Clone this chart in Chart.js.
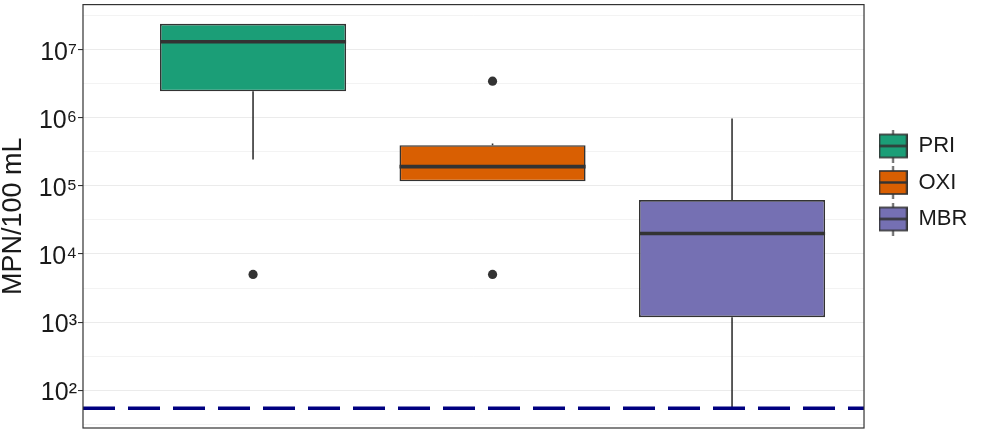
<!DOCTYPE html>
<html><head><meta charset="utf-8">
<script src="https://cdn.jsdelivr.net/npm/chart.js@4.4.1/dist/chart.umd.min.js"></script>
<style>html,body{margin:0;padding:0;background:#fff;}#wrap{width:981px;height:433px;position:relative;}</style>
</head><body><div id="wrap"><canvas id="c"></canvas></div>
<script>
// ---- data ----
const categories   = ['PRI', 'OXI', 'MBR'];
const positions    = [1, 2, 3];
const colors       = ['#1B9E77', '#D95F02', '#7570B3'];
const whiskerLow   = [2.45e5, 1.17e5, 54];
const q1           = [2.45e6, 1.17e5, 1.18e3];
const medians      = [1.31e7, 1.92e5, 2.0e4];
const q3           = [2.4e7, 3.95e5, 6.2e4];
const whiskerHigh  = [2.4e7, 4.2e5, 9.8e5];
const outliers     = [[5.0e3], [3.45e6, 5.0e3], []];
const detectionLimit = 54;
const yTickExponents = [2, 3, 4, 5, 6, 7];
const yTitle = 'MPN/100 mL';

// ---- layout / style constants ----
const X_MIN = 0.29, X_MAX = 3.551;
const Y_MIN = 27.8, Y_MAX = 4.6e7;
const BOX_FRAC = 0.777;
const FONT = "'Liberation Sans', Arial, sans-serif";
const DARK = '#333333';
const TEXT = '#1a1a1a';

const SUP = {'0':'⁰','1':'¹','2':'²','3':'³','4':'⁴','5':'⁵','6':'⁶','7':'⁷','8':'⁸','9':'⁹'};
const sup = n => String(n).split('').map(ch => SUP[ch]).join('');

const boxData = categories.map((c, i) => ({x: positions[i], y: [q1[i], q3[i]]}));
const whiskerPts = [];
categories.forEach((c, i) => {
  const p = positions[i];
  whiskerPts.push({x: p, y: whiskerHigh[i]}, {x: p, y: q3[i]}, {x: p, y: null},
                  {x: p, y: q1[i]}, {x: p, y: whiskerLow[i]}, {x: p, y: null});
});
const medianPts = [];
categories.forEach((c, i) => {
  const p = positions[i];
  medianPts.push({x: p - BOX_FRAC / 2, y: medians[i]}, {x: p + BOX_FRAC / 2, y: medians[i]}, {x: p, y: null});
});
const outlierPts = [];
outliers.forEach((arr, i) => arr.forEach(v => outlierPts.push({x: positions[i], y: v})));

// legend key images (boxplot glyphs)
function makeKey(fill) {
  const cv = document.createElement('canvas');
  cv.width = 29; cv.height = 33;
  const g = cv.getContext('2d');
  g.strokeStyle = DARK; g.lineWidth = 1.6;
  g.beginPath(); g.moveTo(14.5, 0); g.lineTo(14.5, 33); g.stroke();
  g.fillStyle = fill; g.fillRect(0.8, 5, 27.4, 23);
  g.strokeRect(0.8, 5, 27.4, 23);
  g.lineWidth = 2.4;
  g.beginPath(); g.moveTo(0.8, 16.5); g.lineTo(28.2, 16.5); g.stroke();
  return cv;
}
const keyImages = colors.map(makeKey);

const yTicks = [];
for (let e = 1.5; e <= 7.5; e += 0.5) yTicks.push(Math.pow(10, e));
const isMajor = v => { const l = Math.log10(v); return Math.abs(l - Math.round(l)) < 1e-6; };

const panelBorder = {
  id: 'panelBorder',
  afterDatasetsDraw(chart) {
    const {ctx, chartArea: a} = chart;
    ctx.save(); ctx.strokeStyle = DARK; ctx.lineWidth = 1.2;
    ctx.strokeRect(a.left, a.top, a.right - a.left, a.bottom - a.top);
    ctx.restore();
  }
};

new Chart(document.getElementById('c'), {
  type: 'bar',
  data: {
    datasets: [
      {type: 'line', label: 'limit', data: [{x: X_MIN, y: detectionLimit}, {x: X_MAX, y: detectionLimit}],
       borderColor: '#000080', borderWidth: 3.5, borderDash: [32, 13], pointRadius: 0, order: 0},
      {type: 'line', label: 'outliers', data: outlierPts, showLine: false, pointRadius: 4.6,
       pointBackgroundColor: DARK, pointBorderWidth: 0, order: 1},
      {type: 'line', label: 'median', data: medianPts, borderColor: DARK, borderWidth: 3.6,
       pointRadius: 0, spanGaps: false, order: 2},
      {type: 'bar', label: 'box', data: boxData, backgroundColor: colors, borderColor: DARK,
       borderWidth: 1.6, borderSkipped: false, barPercentage: BOX_FRAC, categoryPercentage: 1, order: 3},
      {type: 'line', label: 'whiskers', data: whiskerPts, borderColor: DARK, borderWidth: 1.6,
       pointRadius: 0, spanGaps: false, order: 4}
    ]
  },
  options: {
    responsive: true, maintainAspectRatio: false, animation: false, events: [],
    layout: {padding: {top: 3, bottom: 5, left: 0, right: 3.6}},
    scales: {
      x: {type: 'linear', min: X_MIN, max: X_MAX, offset: false, display: false,
          afterBuildTicks: s => { s.ticks = positions.map(v => ({value: v})); }},
      y: {
        type: 'logarithmic', min: Y_MIN, max: Y_MAX,
        afterFit: s => { s.width = 83; s.paddingTop = 0; s.paddingBottom = 0; },
        afterBuildTicks: s => { s.ticks = yTicks.map(v => ({value: v})); },
        border: {display: false},
        grid: {
          color: '#EBEBEB',
          lineWidth: c => isMajor(c.tick.value) ? 1.1 : 0.6,
          tickColor: c => isMajor(c.tick.value) ? DARK : 'rgba(0,0,0,0)',
          tickWidth: 1.1, tickLength: 5, drawTicks: true
        },
        ticks: {
          autoSkip: false, padding: 1, labelOffset: 3, color: TEXT,
          font: {family: FONT, size: 25},
          callback: v => {
            if (!isMajor(v)) return '';
            const e = Math.round(Math.log10(v));
            return yTickExponents.includes(e) ? '10' + sup(e) : '';
          }
        },
        title: {display: true, text: yTitle, color: TEXT, padding: 0,
                font: {family: FONT, size: 27, lineHeight: 1}}
      }
    },
    plugins: {
      tooltip: {enabled: false},
      legend: {
        display: true, position: 'right', align: 'start',
        title: {display: true, text: ' ', font: {size: 10, lineHeight: 1}, padding: {top: 107.5, bottom: 0}},
        labels: {
          usePointStyle: true, pointStyleWidth: 29, padding: 14.5, color: TEXT,
          font: {family: FONT, size: 22},
          generateLabels: () => categories.map((c, i) => ({
            text: c, pointStyle: keyImages[i], fillStyle: colors[i], strokeStyle: DARK,
            lineWidth: 0, hidden: false, datasetIndex: i, fontColor: TEXT
          }))
        }
      }
    }
  },
  plugins: [panelBorder]
});
</script>
</body></html>
